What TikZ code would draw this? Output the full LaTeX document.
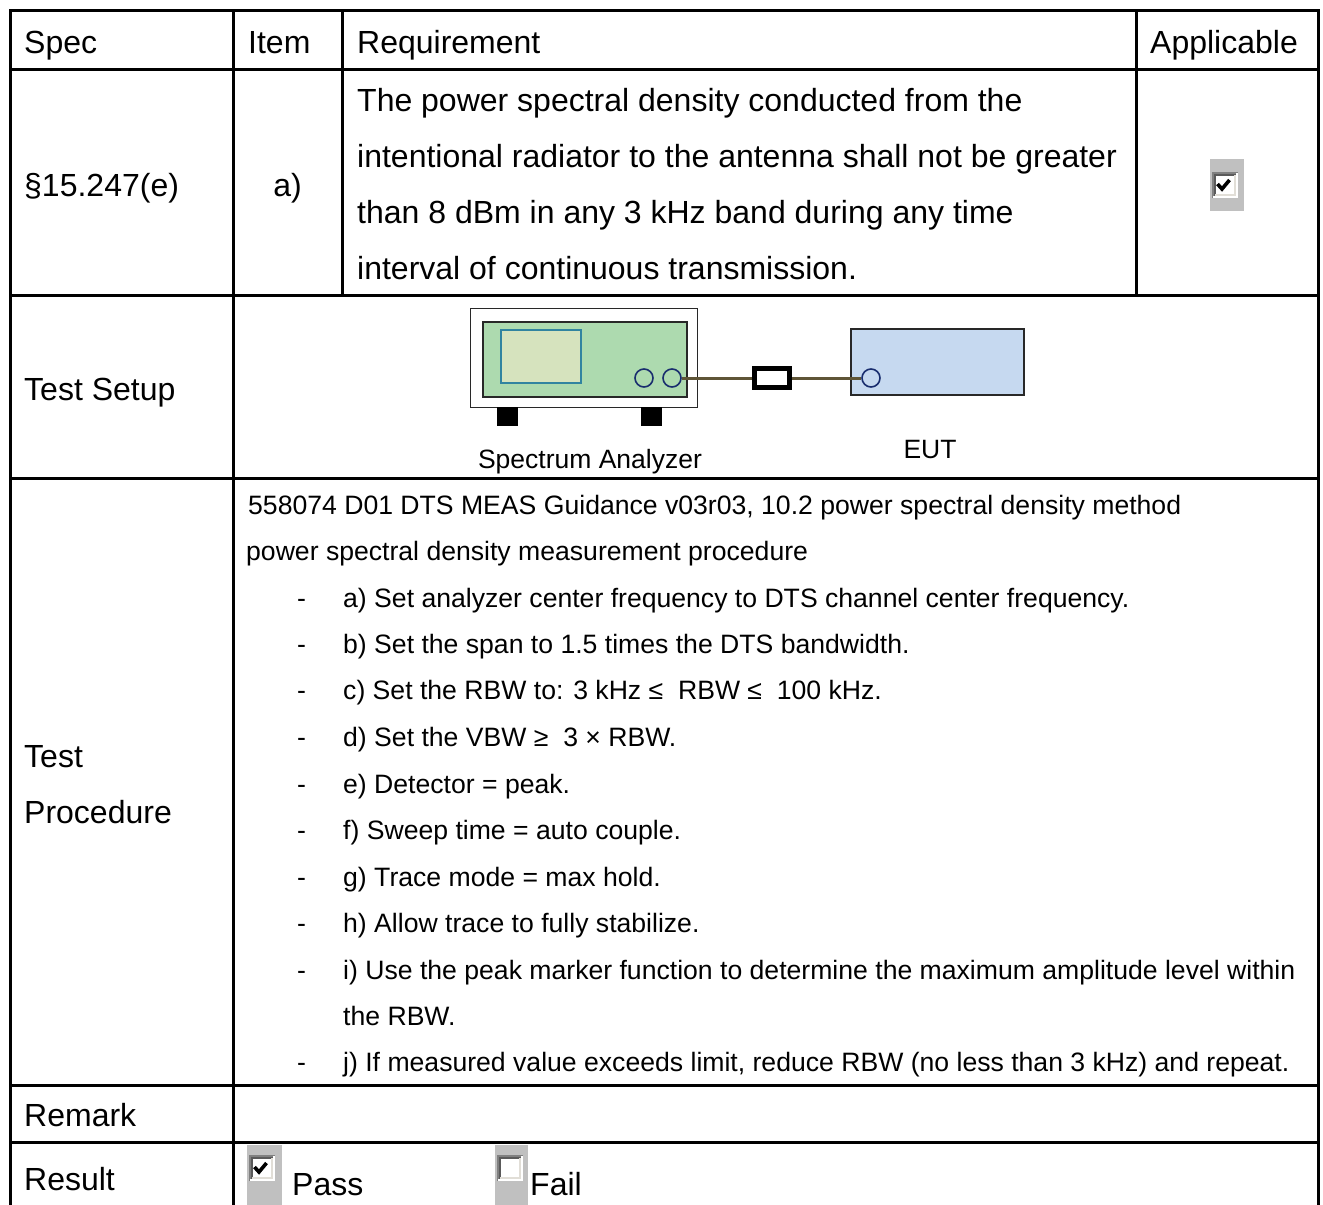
\documentclass[tikz,border=0pt]{standalone}
\usepackage{fontspec}
\setmainfont{Liberation Sans}
\newcommand\bigsz{\fontsize{32}{37}\selectfont}
\newcommand\smsz{\fontsize{26.6}{30}\selectfont}
\newcommand\labsz{\fontsize{26.5}{30}\selectfont}
\definecolor{sagreen}{RGB}{173,218,175}
\definecolor{sascreen}{RGB}{214,227,190}
\definecolor{sascreenedge}{RGB}{49,132,160}
\definecolor{eutblue}{RGB}{198,217,240}
\definecolor{portblue}{RGB}{25,45,110}
\definecolor{cablecol}{RGB}{95,85,55}
\definecolor{cbgray}{RGB}{192,192,192}
\definecolor{cbdark}{RGB}{128,128,128}
\definecolor{cbdarker}{RGB}{90,90,90}
\definecolor{cblight}{RGB}{225,222,215}
\tikzset{
  gridline/.style={line width=3pt, line cap=rect},
  bigtxt/.style={anchor=base west, inner sep=0pt, font=\bigsz},
  smtxt/.style={anchor=base west, inner sep=0pt, font=\smsz},
  labtxt/.style={anchor=base, inner sep=0pt, font=\labsz},
  boxedge/.style={draw={rgb,255:red,40;green,40;blue,40}, line width=1.6pt, inner sep=0pt, anchor=north west},
  port/.style={circle, draw=portblue, line width=1.6pt, minimum size=18pt, inner sep=0pt},
  cable/.style={draw=cablecol, line width=3pt},
  foot/.style={fill=black},
}
\newcommand\mycheckbox[2]{%
  \fill[white] (0,0) rectangle (26,26);
  \draw[cbdark, line width=2pt] (1,26) -- (1,1) -- (26,1);
  \draw[cbdarker, line width=2pt] (3,24) -- (3,3) -- (24,3);
  \draw[white, line width=2pt] (1,25) -- (25,25) -- (25,1);
  \draw[cblight, line width=2pt] (3,23) -- (23,23) -- (23,3);
  \ifnum#1=1
    \draw[black, line width=3.6pt, line cap=butt, line join=miter] (5.5,12) -- (10,17) -- (17.5,8);
  \fi
}
\begin{document}
\begin{tikzpicture}[x=1pt,y=-1pt]
\useasboundingbox (0,0) rectangle (1323,1205);
\fill[white] (0,0) rectangle (1323,1205);

% grid
\draw[gridline] (10,1215) -- (10,10) -- (1318,10) -- (1318,1215);
\foreach \yy in {69,295,478,1085,1142} \draw[gridline] (10,\yy) -- (1318,\yy);
\draw[gridline] (233,10) -- (233,1215);
\draw[gridline] (342,10) -- (342,295);
\draw[gridline] (1136,10) -- (1136,295);

% header
\node[bigtxt] (hspec) at (24,53) {Spec};
\node[bigtxt] (hitem) at (248,53) {Item};
\node[bigtxt] (hreq) at (357,53) {Requirement};
\node[bigtxt] (happ) at (1150,53) {Applicable};

% row 2
\node[bigtxt] (spec) at (24,196) {§15.247(e)};
\node[bigtxt, anchor=base] (item) at (287.5,196) {a)};
\node[bigtxt] (req1) at (357,111) {The power spectral density conducted from the};
\node[bigtxt] (req2) at (357,167) {intentional radiator to the antenna shall not be greater};
\node[bigtxt] (req3) at (357,223) {than 8 dBm in any 3 kHz band during any time};
\node[bigtxt] (req4) at (357,279) {interval of continuous transmission.};

\fill[cbgray] (1210,159) rectangle (1244,211);
\begin{scope}[shift={(1212,172)}]\mycheckbox{1}{0}\end{scope}

% row 3
\node[bigtxt] (setup) at (24,400) {Test Setup};

\node[boxedge, fill=white, minimum width=227pt, minimum height=99pt] (saouter) at (469.5,307.5) {};
\fill[foot] (497,407) rectangle (518,426);
\fill[foot] (641,407) rectangle (662,426);
\node[boxedge, fill=sagreen, minimum width=204pt, minimum height=75pt] (sagreenbox) at (482,321) {};
\node[draw=sascreenedge, line width=1.6pt, fill=sascreen, inner sep=0pt, anchor=north west, minimum width=80pt, minimum height=53pt] (screen) at (500,329) {};
\node[port] (p1) at (644,378) {};
\node[port] (p2) at (672,378) {};
\node[draw=black, line width=5pt, fill=white, inner sep=0pt, minimum width=35pt, minimum height=19pt] (conn) at (772,378) {};
\node[boxedge, fill=eutblue, minimum width=173pt, minimum height=66pt] (eut) at (850,328) {};
\node[port] (p3) at (871,378) {};
\draw[cable] (p2.east) -- (conn.west);
\draw[cable] (conn.east) -- (p3.west);
\node[labtxt] (salabel) at (590,468) {Spectrum Analyzer};
\node[labtxt] (eutlabel) at (930,458) {EUT};

% row 4
\node[bigtxt] (tp1) at (24,767) {Test};
\node[bigtxt] (tp2) at (24,823) {Procedure};
\node[smtxt] (l1) at (248,514) {558074 D01 DTS MEAS Guidance v03r03, 10.2 power spectral density method};
\node[smtxt] (l2) at (246,560) {power spectral density measurement procedure};
\foreach \yy/\name in {607/da,653/db,699/dc,746/dd,793/de,839/df,886/dg,932/dh,979/di,1071/dj}
  \node[smtxt] (\name) at (297,\yy) {-};
\node[smtxt] (la) at (343,607) {a) Set analyzer center frequency to DTS channel center frequency.};
\node[smtxt] (lb) at (343,653) {b) Set the span to 1.5 times the DTS bandwidth.};
\node[smtxt] (lc) at (343,699) {c) Set the RBW to: 3 kHz ≤\ \ RBW ≤\ \ 100 kHz.};
\node[smtxt] (ld) at (343,746) {d) Set the VBW ≥\ \ 3 × RBW.};
\node[smtxt] (le) at (343,793) {e) Detector = peak.};
\node[smtxt] (lf) at (343,839) {f) Sweep time = auto couple.};
\node[smtxt] (lg) at (343,886) {g) Trace mode = max hold.};
\node[smtxt] (lh) at (343,932) {h) Allow trace to fully stabilize.};
\node[smtxt] (li) at (343,979) {i) Use the peak marker function to determine the maximum amplitude level within};
\node[smtxt] (li2) at (343,1025) {the RBW.};
\node[smtxt] (lj) at (343,1071) {j) If measured value exceeds limit, reduce RBW (no less than 3 kHz) and repeat.};

% row 5, 6
\node[bigtxt] (remark) at (24,1126) {Remark};
\node[bigtxt] (result) at (24,1190) {Result};

\fill[cbgray] (247,1145) rectangle (282,1205);
\begin{scope}[shift={(249,1155)}]\mycheckbox{1}{0}\end{scope}
\node[bigtxt] (pass) at (292,1195) {Pass};
\fill[cbgray] (495,1145) rectangle (528,1205);
\begin{scope}[shift={(497,1155)}]\mycheckbox{0}{0}\end{scope}
\node[bigtxt] (fail) at (530,1195) {Fail};
\end{tikzpicture}
\end{document}
